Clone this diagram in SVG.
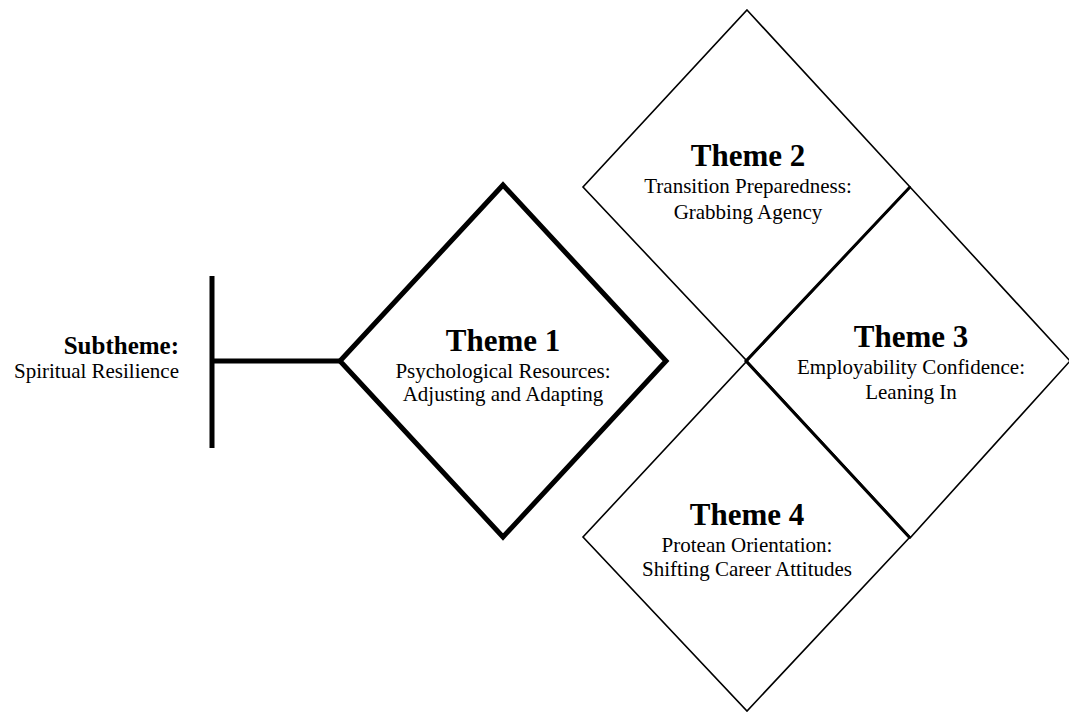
<svg xmlns="http://www.w3.org/2000/svg" width="1069" height="713" viewBox="0 0 1069 713">
<style>
.thin{fill:none;stroke:#000;stroke-width:1.6;stroke-linejoin:miter}
.thick{fill:none;stroke:#000;stroke-width:5;stroke-linejoin:miter}
.h{font-family:"Liberation Serif","Times New Roman",serif;font-weight:bold;font-size:31px;text-anchor:middle;fill:#000}
.s{font-family:"Liberation Serif","Times New Roman",serif;font-size:21px;text-anchor:middle;fill:#000}
</style>
<rect width="1069" height="713" fill="#fff"/>
<g id="connectors">
<line class="thick" x1="212" y1="276" x2="212" y2="448"/>
<line class="thick" x1="212" y1="361" x2="341" y2="361"/>
</g>
<g id="subtheme">
<text x="179" y="354" style="font-family:'Liberation Serif','Times New Roman',serif;font-weight:bold;font-size:25px;text-anchor:end">Subtheme:</text>
<text x="179" y="378" style="font-family:'Liberation Serif','Times New Roman',serif;font-size:21px;text-anchor:end">Spiritual Resilience</text>
</g>
<g id="theme1">
<polygon class="thick" points="503,185 666,361 503,537 340,361"/>
<text class="h" x="503" y="351">Theme 1</text>
<text class="s" x="503" y="378">Psychological Resources:</text>
<text class="s" x="503" y="401">Adjusting and Adapting</text>
</g>
<g id="theme2">
<polygon class="thin" points="747,10 910,187 747,361 583,187"/>
<text class="h" x="748" y="166">Theme 2</text>
<text class="s" x="748" y="193">Transition Preparedness:</text>
<text class="s" x="748" y="219">Grabbing Agency</text>
</g>
<g id="theme3">
<polygon class="thin" points="910,187 1070,361 910,538 746,361"/>
<polyline class="thin" style="stroke-width:3" points="910,187 746,361 910,538"/>
<text class="h" x="911" y="347">Theme 3</text>
<text class="s" x="911" y="374">Employability Confidence:</text>
<text class="s" x="911" y="399">Leaning In</text>
</g>
<g id="theme4">
<polygon class="thin" points="747,361 910,537 747,711 583,537"/>
<text class="h" x="747" y="525">Theme 4</text>
<text class="s" x="747" y="552">Protean Orientation:</text>
<text class="s" x="747" y="576">Shifting Career Attitudes</text>
</g>
</svg>
